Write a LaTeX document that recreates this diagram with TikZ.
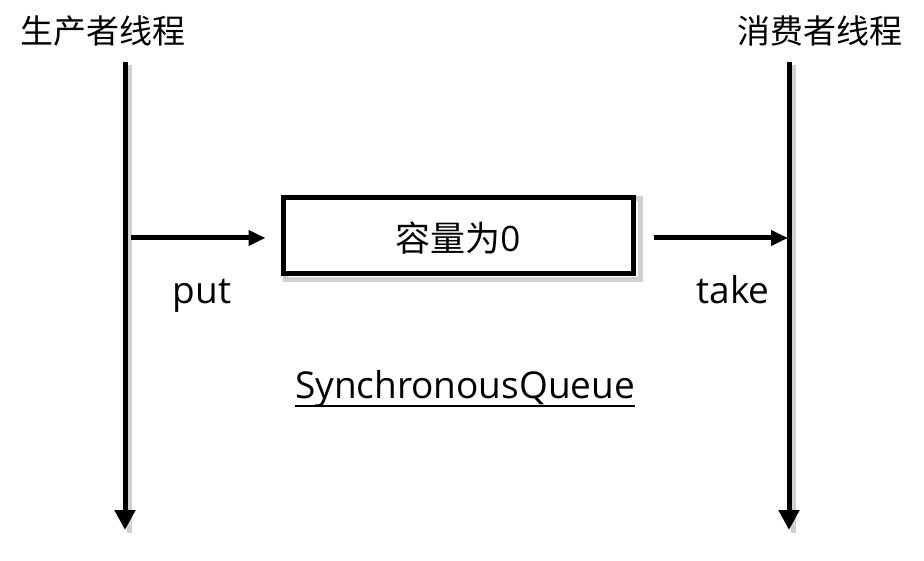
\documentclass[tikz,border=0pt]{standalone}
\usepackage{fontspec}
\setmainfont{Open Sans}
\newfontfamily\cjk{Noto Sans CJK SC}
\usetikzlibrary{arrows.meta}
\begin{document}
\begin{tikzpicture}[x=1pt,y=-1pt,
  lifeline/.style={line width=5pt,-{Triangle[length=20pt,width=20pt]}},
  msg/.style={line width=5pt,-{Triangle[length=17pt,width=15pt]}},
  queuebox/.style={draw,line width=5pt,minimum width=350pt,minimum height=76pt,inner sep=0pt},
  shadowline/.style={line width=5pt,draw=black!18},
  lbl/.style={font=\fontsize{37}{40}\selectfont,inner sep=0pt,anchor=base},
  title/.style={font=\cjk\fontsize{33}{36}\selectfont,inner sep=0pt}]
\useasboundingbox (0,0) rectangle (924,561);
% titles
\node[title] (ptitle) at (103,31) {生产者线程};
\node[title] (ctitle) at (820,31) {消费者线程};
% lifeline coordinates
\coordinate (ltop) at (125,62);
\coordinate (lbot) at (125,530);
\coordinate (rtop) at (789,62);
\coordinate (rbot) at (789,530);
% shadows
\draw[shadowline] ([xshift=4pt,yshift=-3pt]ltop) -- ([xshift=4pt,yshift=-3pt]lbot);
\draw[shadowline] ([xshift=4pt,yshift=-3pt]rtop) -- ([xshift=4pt,yshift=-3pt]rbot);
\draw[shadowline] (285,199) rectangle (640,280);
% box
\node[queuebox,fill=white] (box) at (458,236) {};
\node[font=\fontsize{35}{38}\selectfont,inner sep=0pt] (boxtext) at (458,238) {{\cjk 容量为}0};
% lifelines
\draw[lifeline] (ltop) -- (lbot);
\draw[lifeline] (rtop) -- (rbot);
% messages
\coordinate (pstart) at (131,238);
\coordinate (tend) at (788,238);
\draw[msg] (pstart) -- ([xshift=-15pt]box.west |- pstart);
\draw[msg] ([xshift=18pt]box.east |- tend) -- (tend);
% labels
\node[lbl] (put) at (202,304) {put};
\node[lbl] (take) at (733,304) {take};
\node[lbl] (sq) at (465,399) {SynchronousQueue};
\draw[line width=2.6pt] ([yshift=-7pt]sq.base west) -- ([yshift=-7pt]sq.base east);
\end{tikzpicture}
\end{document}
